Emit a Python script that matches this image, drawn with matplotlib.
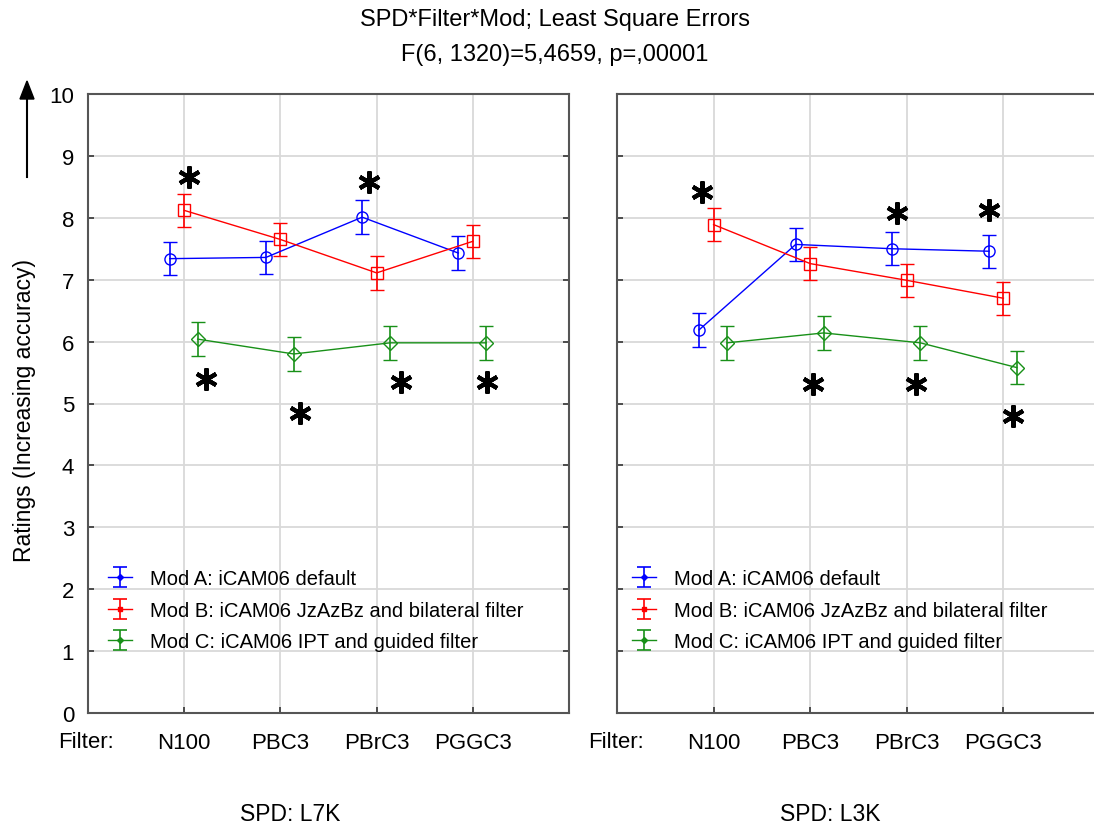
import numpy as np
import matplotlib
matplotlib.use("Agg")
import matplotlib.pyplot as plt

plt.rcParams["font.family"] = ["Liberation Sans", "DejaVu Sans"]

# data
filters = ["N100", "PBC3", "PBrC3", "PGGC3"]
mods = ["Mod A: iCAM06 default",
        "Mod B: iCAM06 JzAzBz and bilateral filter",
        "Mod C: iCAM06 IPT and guided filter"]

l7k_a = [7.34, 7.36, 8.01, 7.43]
l7k_b = [8.12, 7.65, 7.11, 7.62]
l7k_c = [6.04, 5.80, 5.98, 5.98]

l3k_a = [6.19, 7.57, 7.50, 7.46]
l3k_b = [7.89, 7.26, 6.99, 6.70]
l3k_c = [5.98, 6.14, 5.98, 5.58]

err = 0.27

# significance stars (filter index + offset, rating)
l7k_star_x = [0.05, 1.92, 0.23, 1.2, 2.25, 3.15]
l7k_star_y = [8.66, 8.58, 5.40, 4.84, 5.35, 5.35]
l3k_star_x = [-0.12, 1.9, 2.85, 1.03, 2.1, 3.1]
l3k_star_y = [8.42, 8.08, 8.13, 5.31, 5.31, 4.79]

colors = ["#0000ff", "#ff0000", "#189018"]
markers = ["o", "s", "D"]
offsets = [-0.15, 0.0, 0.14]

W, H = 1094, 829
fig = plt.figure(figsize=(W / 100, H / 100), dpi=100)

ax1 = fig.add_axes([88 / W, (H - 714) / H, 481 / W, 619 / H])
ax2 = fig.add_axes([617 / W, (H - 714) / H, 483 / W, 619 / H])

x = np.arange(len(filters))

for ax, series, sx, sy in [(ax1, [l7k_a, l7k_b, l7k_c], l7k_star_x, l7k_star_y),
                           (ax2, [l3k_a, l3k_b, l3k_c], l3k_star_x, l3k_star_y)]:
    for vals, c, m, off in zip(series, colors, markers, offsets):
        ax.errorbar(x + off, vals, yerr=err, color=c, marker=m, ms=8 if m != "D" else 7,
                    mfc="none", mec=c, mew=1.0, lw=1.0, capsize=5, elinewidth=1.2,
                    capthick=1.2, zorder=3)
    ax.plot(sx, sy, linestyle="none", marker=(6, 2, 0), ms=16, mew=3.0,
            color="black", zorder=4)

    ax.set_xlim(-1, 4)
    ax.set_ylim(0, 10)
    ax.set_xticks(x)
    ax.set_xticklabels(filters, fontsize=16)
    ax.set_yticks(range(0, 11))
    ax.grid(True, color="#d9d9d9", lw=1.3, zorder=0)
    ax.set_axisbelow(True)
    ax.tick_params(direction="in", length=4, width=1.2, color="#333333", pad=14,
                   labelsize=16, top=False, right=True)
    for s in ax.spines.values():
        s.set_color("#555555")
        s.set_linewidth(1.5)

    handles = [ax.errorbar([np.nan], [np.nan], yerr=[err], color=c, marker=m, ms=3,
                           mfc=c, lw=1.0, capsize=5, elinewidth=1.2, capthick=1.2)
               for c, m in zip(colors, ["D", "s", "D"])]
    bx = 0.042 if ax is ax1 else 0.031
    ax.legend(handles, mods, loc="center left", bbox_to_anchor=(bx, 0.166),
              frameon=False, fontsize=14.5, borderpad=0, borderaxespad=0,
              handlelength=1.2, handletextpad=0.9, labelspacing=0.62)

ax1.tick_params(axis="y", pad=10)
ax2.tick_params(axis="y", labelleft=False, right=False)
ax2.spines["right"].set_visible(False)

fig.text(0.507, 1 - 20 / H, "SPD*Filter*Mod; Least Square Errors", ha="center",
         va="center", fontsize=17)
fig.text(0.507, 1 - 55 / H, "F(6, 1320)=5,4659, p=,00001", ha="center",
         va="center", fontsize=17)

fig.text(25 / W, 1 - 410 / H, "Ratings (Increasing accuracy)", rotation=90,
         ha="center", va="center", fontsize=16.5)
fig.add_artist(plt.Line2D([27 / W, 27 / W], [1 - 178 / H, 1 - 100 / H],
                          color="black", lw=1.5))
fig.patches.append(matplotlib.patches.FancyArrow(27 / W, 1 - 100 / H, 0, 18 / H,
                   width=0, head_width=14 / W, head_length=18 / H,
                   length_includes_head=True, color="black",
                   transform=fig.transFigure, figure=fig))

fig.text(58 / W, 1 - 743 / H, "Filter:", ha="left", va="center", fontsize=16)
fig.text(588 / W, 1 - 743 / H, "Filter:", ha="left", va="center", fontsize=16)
fig.text(290 / W, 1 - 815 / H, "SPD: L7K", ha="center", va="center", fontsize=16.5)
fig.text(830 / W, 1 - 815 / H, "SPD: L3K", ha="center", va="center", fontsize=16.5)

fig.savefig("out.png", dpi=100)
